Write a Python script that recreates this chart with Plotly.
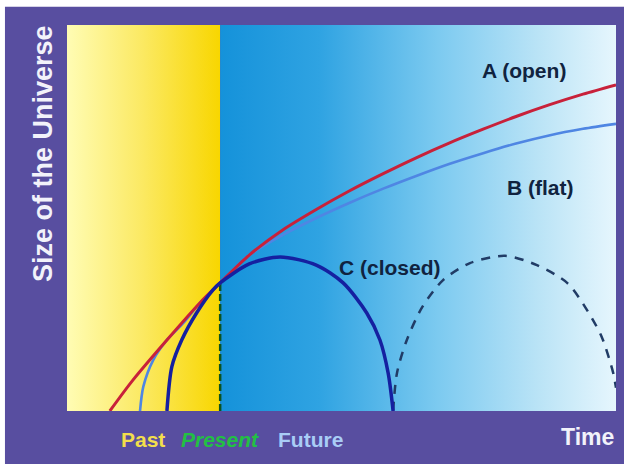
"""Size of the Universe vs time: open, flat and closed models."""
import plotly.graph_objects as go

# ── data (time / size in arbitrary units, 0–100) ───────────────────────────
PRESENT_TIME = 27.9
PRESENT_SIZE = 33.2
TIME_RANGE = [0, 100]
SIZE_RANGE = [0, 100]

open_t = [7.8, 12.0, 18.2, 24.2, 27.9, 33.2, 39.3, 45.4, 51.4, 57.6, 63.6,
          69.6, 75.8, 81.8, 87.8, 94.0, 100]
open_size = [0, 8.0, 18.4, 28.0, 33.2, 40.4, 46.9, 52.2, 57.0, 61.5, 65.6,
             69.4, 73.0, 76.3, 79.3, 82.1, 84.5]

flat_t = [13.3, 13.9, 15.7, 18.2, 21.2, 24.2, 27.9, 33.2, 39.3, 45.4, 51.4,
          57.6, 63.6, 69.6, 75.8, 81.8, 87.8, 94.0, 100]
flat_size = [0, 6.3, 13.2, 18.4, 22.8, 28.0, 33.2, 40.4, 45.6, 50.0, 53.9,
             57.6, 60.9, 64.0, 66.8, 69.3, 71.4, 73.1, 74.4]

closed_t = [18.2, 19.1, 20.9, 23.6, 26.6, 27.9, 33.2, 38.8, 45.4, 50.3,
            54.6, 57.0, 58.5, 59.4]
closed_size = [0, 11.5, 18.4, 25.4, 31.4, 33.2, 38.1, 39.9, 37.8, 33.2,
               25.4, 18.4, 9.8, 0]

# next cycle of the closed universe (dashed)
cycle_t = [59.4, 60.1, 61.9, 64.7, 68.5, 73.4, 79.8, 85.6, 91.1, 94.7,
           97.4, 99.5, 100]
cycle_size = [0, 9.8, 18.4, 26.9, 33.9, 38.3, 40.2, 37.8, 33.2, 26.2,
              19.2, 9.8, 6.0]

CURVE_LABELS = ["A (open)", "B (flat)", "C (closed)"]
ERA_LABELS = ["Past", "Present", "Future"]

FRAME = "#584ea0"
INK = "#10233f"
FONT = "Liberation Sans"

fig = go.Figure()

# ── background eras: yellow past, blue future ─────────────────────────────
fig.add_trace(go.Scatter(
    x=[TIME_RANGE[0], PRESENT_TIME, PRESENT_TIME, TIME_RANGE[0], TIME_RANGE[0]],
    y=[SIZE_RANGE[0], SIZE_RANGE[0], SIZE_RANGE[1], SIZE_RANGE[1], SIZE_RANGE[0]],
    mode="none", fill="toself",
    fillgradient=dict(type="horizontal",
                      colorscale=[[0, "#fffcb4"], [0.5, "#fbe961"], [1, "#f8d600"]]),
    hoverinfo="skip"))
fig.add_trace(go.Scatter(
    x=[PRESENT_TIME, TIME_RANGE[1], TIME_RANGE[1], PRESENT_TIME, PRESENT_TIME],
    y=[SIZE_RANGE[0], SIZE_RANGE[0], SIZE_RANGE[1], SIZE_RANGE[1], SIZE_RANGE[0]],
    mode="none", fill="toself",
    fillgradient=dict(type="horizontal",
                      colorscale=[[0, "#1592da"], [0.25, "#2fa3e2"],
                                  [0.55, "#7ccaf0"], [0.8, "#b9e3f6"],
                                  [1, "#e6f6fd"]]),
    hoverinfo="skip"))

# present marker
fig.add_trace(go.Scatter(
    x=[PRESENT_TIME, PRESENT_TIME], y=[SIZE_RANGE[0], PRESENT_SIZE],
    mode="lines", line=dict(color="#0d5320", width=2.5, dash="7px,3px"),
    hoverinfo="skip"))

# ── expansion curves ─────────────────────────────────────────────────────
fig.add_trace(go.Scatter(x=cycle_t, y=cycle_size, mode="lines",
                         line=dict(color="#213c66", width=2.5, dash="9px,8px",
                                   shape="spline", smoothing=0.8),
                         hoverinfo="skip"))
fig.add_trace(go.Scatter(x=flat_t, y=flat_size, mode="lines",
                         line=dict(color="#4f86e3", width=2.6, shape="spline",
                                   smoothing=0.8),
                         hoverinfo="skip"))
fig.add_trace(go.Scatter(x=open_t, y=open_size, mode="lines",
                         line=dict(color="#c8213a", width=3, shape="spline",
                                   smoothing=0.8),
                         hoverinfo="skip"))
fig.add_trace(go.Scatter(x=closed_t, y=closed_size, mode="lines",
                         line=dict(color="#1520a0", width=3.5, shape="spline",
                                   smoothing=0.8),
                         hoverinfo="skip"))

# ── labels ───────────────────────────────────────────────────────────────
label_pos = [(83.2, 88.3), (86.2, 58.0), (58.8, 37.3)]
for text, (x, y) in zip(CURVE_LABELS, label_pos):
    fig.add_annotation(x=x, y=y, xref="x", yref="y", text=text, showarrow=False,
                       xanchor="center", yanchor="middle",
                       font=dict(family=FONT, size=21, color=INK, weight="bold"))

era_colors = ["#f2de4c", "#22c043", "#a9cdf6"]
era_x = [13.8, PRESENT_TIME, 44.3]
for text, x, c in zip(ERA_LABELS, era_x, era_colors):
    fig.add_annotation(x=x, y=-0.073, xref="x", yref="paper", text=text,
                       showarrow=False, xanchor="center", yanchor="middle",
                       font=dict(family=FONT, size=21, color=c, weight="bold",
                                 style="italic" if text == "Present" else "normal"))
fig.add_annotation(x=1.0, y=-0.068, xref="paper", yref="paper", text="Time",
                   showarrow=False, xanchor="right", yanchor="middle",
                   font=dict(family=FONT, size=23, color="#f2f2fa", weight="bold"))
fig.add_annotation(x=-0.044, y=0.668, xref="paper", yref="paper",
                   text="Size of the Universe", textangle=-90, showarrow=False,
                   xanchor="center", yanchor="middle",
                   font=dict(family=FONT, size=27, color="#f2f2fa", weight="bold"))

# purple frame
fig.add_shape(type="rect", xref="paper", yref="paper",
              x0=-0.113, x1=1.02, y0=-0.137, y1=1.047,
              fillcolor=FRAME, line_width=0, layer="below")

fig.update_xaxes(range=TIME_RANGE, visible=False)
fig.update_yaxes(range=SIZE_RANGE, visible=False)
fig.update_layout(
    width=624, height=474,
    margin=dict(l=67, r=8, t=25, b=63),
    paper_bgcolor="white", plot_bgcolor=FRAME,
    showlegend=False,
)

fig.write_html("out.html", config={"displayModeBar": False},
               post_script="document.body.style.margin='0';")
